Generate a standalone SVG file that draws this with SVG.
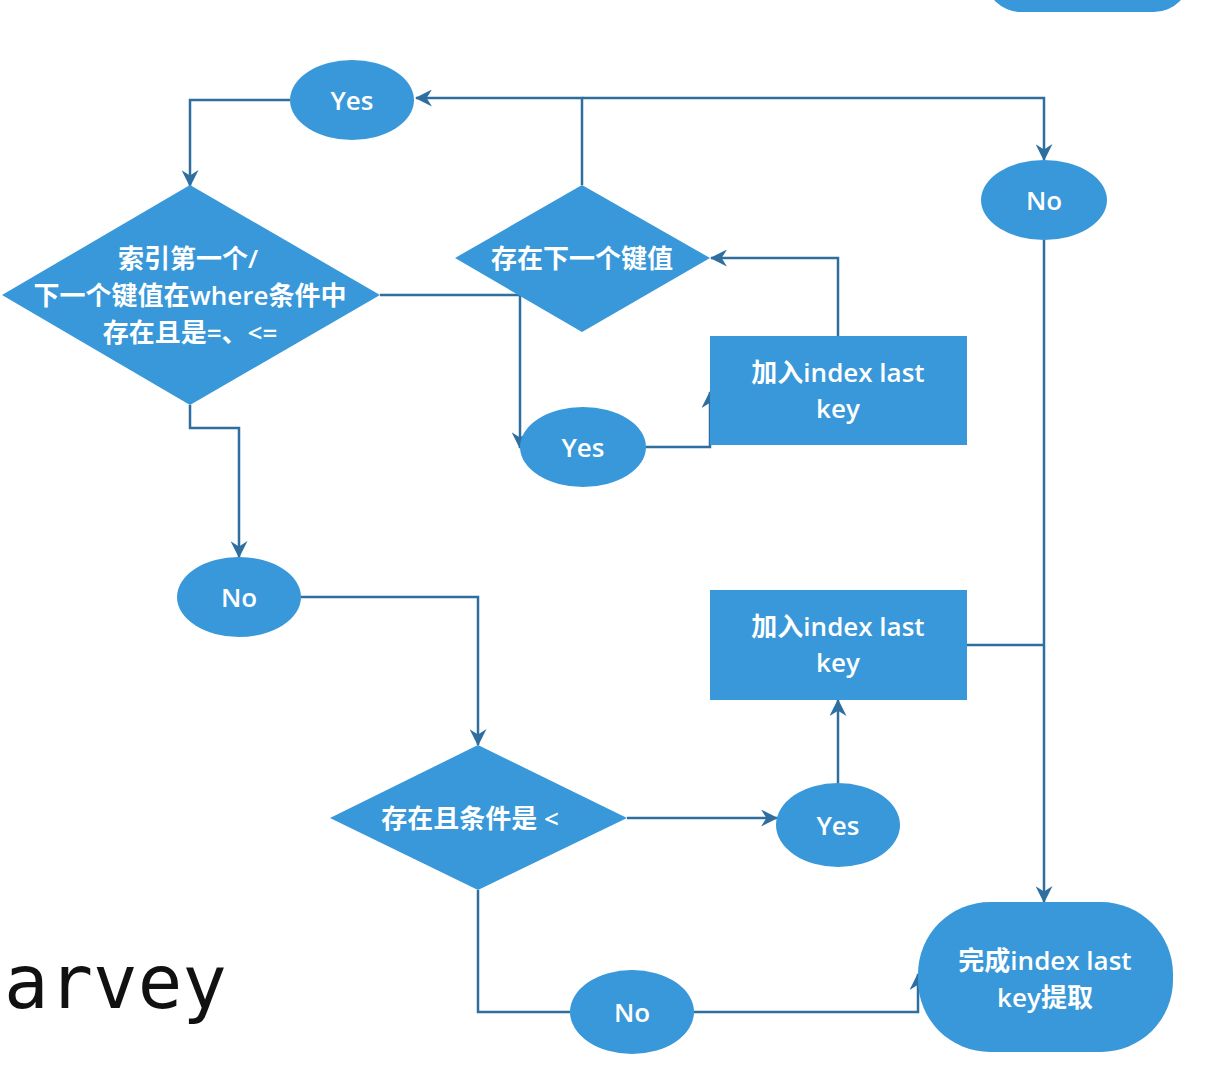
<svg xmlns="http://www.w3.org/2000/svg" width="1227" height="1091" viewBox="0 0 1227 1091">
<style>
.n{fill:#3898d9}
.t{fill:#fff;font-family:"Open Sans","Noto Sans CJK SC",sans-serif;font-size:26px;font-weight:600;text-anchor:middle;dominant-baseline:central}
.c{fill:none;stroke:#2e6f9f;stroke-width:2.5}
</style>
<defs>
<marker id="a" viewBox="0 0 16 16" refX="15" refY="8" markerWidth="17" markerHeight="17" markerUnits="userSpaceOnUse" orient="auto">
<path d="M0,0 L16,8 L0,16 L5,8 z" fill="#2e6f9f"/>
</marker>
</defs>
<rect width="1227" height="1091" fill="#fff"/>
<g id="connectors">
<path class="c" d="M582,185 V98 H416" marker-end="url(#a)"/>
<path class="c" d="M582,98 H1044 V160" marker-end="url(#a)"/>
<path class="c" d="M290,100 H190 V186" marker-end="url(#a)"/>
<path class="c" d="M380,295 H520 V448" marker-end="url(#a)"/>
<path class="c" d="M646,447 H710 V392" marker-end="url(#a)"/>
<path class="c" d="M838,336 V258 H711" marker-end="url(#a)"/>
<path class="c" d="M190,405 V428 H239 V557" marker-end="url(#a)"/>
<path class="c" d="M301,597 H478 V745" marker-end="url(#a)"/>
<path class="c" d="M627,818 H777" marker-end="url(#a)"/>
<path class="c" d="M838,783 V700" marker-end="url(#a)"/>
<path class="c" d="M967,645 H1044"/>
<path class="c" d="M1044,240 V902" marker-end="url(#a)"/>
<path class="c" d="M478,890 V1012 H570"/>
<path class="c" d="M694,1012 H918 V974" marker-end="url(#a)"/>
</g>
<g id="top-partial"><rect class="n" x="985" y="-60" width="205" height="72" rx="36"/></g>
<g id="yes1"><ellipse class="n" cx="352" cy="100" rx="62" ry="40"/><text class="t" x="352" y="100">Yes</text></g>
<g id="cond1"><polygon class="n" points="190,185 380,295 190,405 2,295"/>
<text class="t" x="188" y="258">索引第一个/</text>
<text class="t" x="190" y="295">下一个键值在where条件中</text>
<text class="t" x="190" y="332">存在且是=、&lt;=</text></g>
<g id="cond2"><polygon class="n" points="582,185 710,258 582,332 455,258"/><text class="t" x="582" y="258">存在下一个键值</text></g>
<g id="no1"><ellipse class="n" cx="1044" cy="200" rx="63" ry="40"/><text class="t" x="1044" y="200">No</text></g>
<g id="add1"><rect class="n" x="710" y="336" width="257" height="109"/><text class="t" x="838" y="372">加入index last</text><text class="t" x="838" y="408">key</text></g>
<g id="yes2"><ellipse class="n" cx="583" cy="447" rx="63" ry="40"/><text class="t" x="583" y="447">Yes</text></g>
<g id="no2"><ellipse class="n" cx="239" cy="597" rx="62" ry="40"/><text class="t" x="239" y="597">No</text></g>
<g id="add2"><rect class="n" x="710" y="590" width="257" height="110"/><text class="t" x="838" y="626">加入index last</text><text class="t" x="838" y="662">key</text></g>
<g id="cond3"><polygon class="n" points="478,745 627,818 478,890 330,818"/><text class="t" x="470" y="818">存在且条件是 &lt;</text></g>
<g id="yes3"><ellipse class="n" cx="838" cy="825" rx="62" ry="42"/><text class="t" x="838" y="825">Yes</text></g>
<g id="no3"><ellipse class="n" cx="632" cy="1012" rx="62" ry="42"/><text class="t" x="632" y="1012">No</text></g>
<g id="done"><rect class="n" x="918" y="902" width="255" height="150" rx="72"/><text class="t" x="1045" y="960">完成index last</text><text class="t" x="1045" y="997">key提取</text></g>
<text x="4" y="1008" font-family="DejaVu Sans Mono,monospace" font-size="74" fill="#111">arvey</text>
</svg>
